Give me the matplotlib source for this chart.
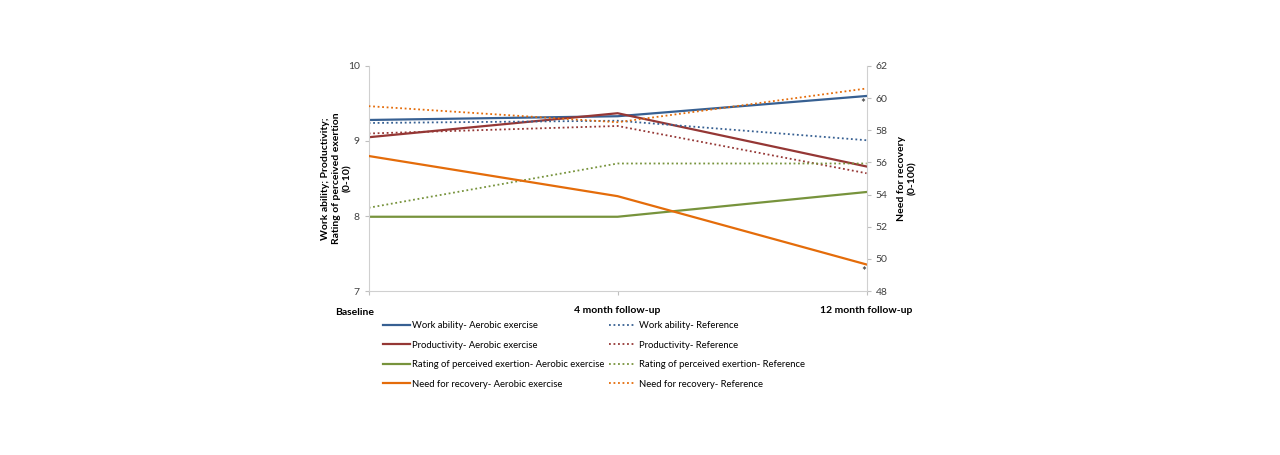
import matplotlib
matplotlib.use("Agg")
import matplotlib.pyplot as plt

plt.rcParams['font.family'] = ['Lato', 'DejaVu Sans']

# data
timepoints = ["Baseline", "4 month follow-up", "12 month follow-up"]
work_ability_aer = [9.28, 9.33, 9.60]
work_ability_ref = [9.24, 9.27, 9.01]
productivity_aer = [9.05, 9.37, 8.66]
productivity_ref = [9.10, 9.20, 8.57]
rpe_aer = [7.99, 7.99, 8.32]
rpe_ref = [8.11, 8.70, 8.70]
nfr_aer = [56.4, 53.9, 49.65]   # right axis
nfr_ref = [59.5, 58.5, 60.6]    # right axis

blue = "#376092"
red = "#953735"
green = "#77933C"
orange = "#E46C0A"

x = [0, 1, 2]

fig = plt.figure(figsize=(12.8, 4.55), dpi=100)
ax = fig.add_axes([0.288, 0.3604, 0.389, 0.4946])
ax2 = ax.twinx()

lw = 1.6
dot = (0, (1, 1.5))
h1, = ax.plot(x, work_ability_aer, color=blue, lw=lw, label="Work ability- Aerobic exercise")
h2, = ax.plot(x, productivity_aer, color=red, lw=lw, label="Productivity- Aerobic exercise")
h3, = ax.plot(x, rpe_aer, color=green, lw=lw, label="Rating of perceived exertion- Aerobic exercise")
h4, = ax2.plot(x, nfr_aer, color=orange, lw=lw, label="Need for recovery- Aerobic exercise")
r1, = ax.plot(x, work_ability_ref, color=blue, lw=1.3, ls=dot, label="Work ability- Reference")
r2, = ax.plot(x, productivity_ref, color=red, lw=1.3, ls=dot, label="Productivity- Reference")
r3, = ax.plot(x, rpe_ref, color=green, lw=1.3, ls=dot, label="Rating of perceived exertion- Reference")
r4, = ax2.plot(x, nfr_ref, color=orange, lw=1.3, ls=dot, label="Need for recovery- Reference")

ax.set_xlim(0, 2)
ax.set_ylim(7, 10)
ax.set_yticks([7, 8, 9, 10])
ax2.set_ylim(48, 62)
ax2.set_yticks(range(48, 63, 2))

ax.set_xticks(x)
ax.set_xticklabels([""] + timepoints[1:], fontweight="bold", fontsize=7.5)
# Baseline label sits a bit left of its tick
ax.annotate(timepoints[0], xy=(0, 0), xycoords=("data", "axes fraction"),
            xytext=(-10, -12), textcoords="offset points", ha="center", va="top",
            fontweight="bold", fontsize=7.5)

for a in (ax, ax2):
    a.spines["top"].set_visible(False)
    for s in ("left", "right", "bottom"):
        a.spines[s].set_color("#d0d0d0")
    a.tick_params(colors="#bfbfbf", labelcolor="#404040", labelsize=7.5, length=3)
ax2.spines["left"].set_visible(False)
ax2.spines["bottom"].set_visible(False)
ax.spines["right"].set_visible(False)
ax.tick_params(axis="x", labelcolor="black", pad=8)

ax.set_ylabel("Work ability; Productivity;\nRating of perceived exertion\n(0-10)",
              fontweight="bold", fontsize=7.5, labelpad=-3, linespacing=1.25)
ax2.set_ylabel("Need for recovery\n(0-100)", fontweight="bold", fontsize=7.5,
               labelpad=7, linespacing=1.2)

# significance markers
ax.text(1.985, 9.50, "*", ha="center", va="center", fontsize=8.5, color="#222222")
ax2.text(1.99, 49.2, "*", ha="center", va="center", fontsize=8.5, color="#222222")

leg_kw = dict(frameon=False, loc="upper left", fontsize=6.8, handlelength=2.9,
              handletextpad=0.25, labelspacing=1.1, borderaxespad=0)
leg1 = fig.legend(handles=[h1, h2, h3, h4], bbox_to_anchor=(0.296, 0.302), **leg_kw)
leg2 = fig.legend(handles=[r1, r2, r3, r4], bbox_to_anchor=(0.4727, 0.302), **leg_kw)

fig.savefig("out.png", dpi=100)
